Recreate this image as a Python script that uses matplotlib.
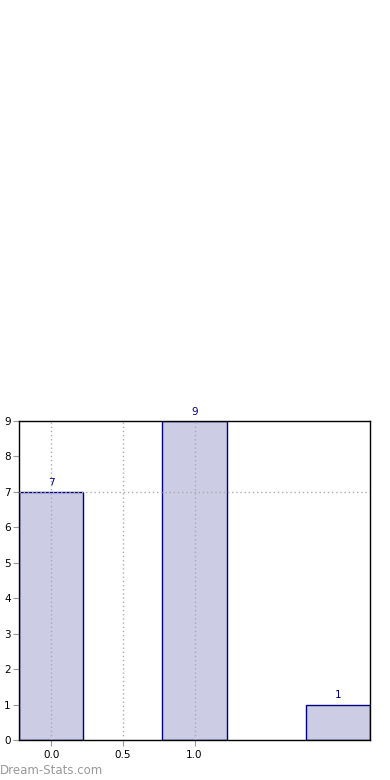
import matplotlib
matplotlib.use("Agg")
import matplotlib.pyplot as plt

positions = [0, 1, 2]
values = [7, 9, 1]
xticks = [0.0, 0.5, 1.0]
xticklabels = ["0.0", "0.5", "1.0"]
yticks = list(range(0, 10))
ref_line = 7

fig = plt.figure(figsize=(3.9, 7.8), dpi=100)
ax = fig.add_axes([19/390, 40/780, 351/390, 319/780])

ax.bar(positions, values, width=0.45, color="#ccccE5", edgecolor="#000080", linewidth=1, zorder=2)
for p, v in zip(positions, values):
    ax.text(p, v + 0.12, str(v), ha="center", va="bottom", color="#000080", fontsize=7.5)

ax.set_xlim(-0.225, 2.225)
ax.set_ylim(0, 9)
ax.set_xticks(xticks)
ax.set_xticklabels(xticklabels)
ax.set_yticks(yticks)
ax.tick_params(axis="both", labelsize=7.5, color="#999999", length=4, pad=3, direction="out")
ax.tick_params(axis="y", pad=2)
for x in xticks:
    ax.axvline(x, color="#aaaaaa", linestyle=(0, (1, 2)), linewidth=1, zorder=3)
ax.axhline(ref_line, color="#aaaaaa", linestyle=(0, (1, 2)), linewidth=1, zorder=3)
for s in ax.spines.values():
    s.set_linewidth(1)
    s.set_color("black")

fig.text(0.0, 10/780, "Dream-Stats.com", color="#999999", fontsize=8.5, ha="left", va="center")

fig.savefig("out.png", dpi=100)
